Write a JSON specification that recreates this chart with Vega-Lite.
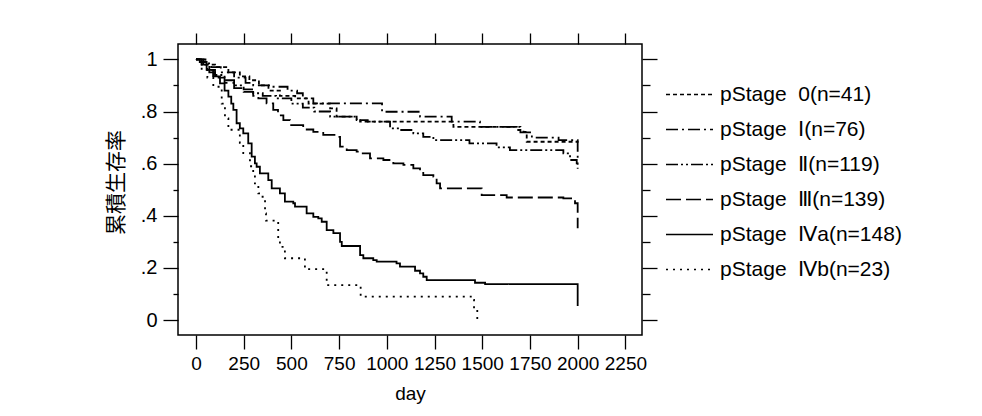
{
  "$schema": "https://vega.github.io/schema/vega-lite/v6.json",
  "width": 464,
  "height": 291,
  "autosize": {"type": "none"},
  "padding": {"left": 178, "top": 44, "right": 340, "bottom": 81},
  "background": "white",
  "config": {"view": {"stroke": "black", "strokeWidth": 1.5}, "font": "Liberation Sans"},
  "datasets": {
    "km": [
      {"stage": "pStage\u00a0\u00a00(n=41)", "day": 0, "s": 1.0},
      {"stage": "pStage\u00a0\u00a00(n=41)", "day": 50, "s": 0.98},
      {"stage": "pStage\u00a0\u00a00(n=41)", "day": 100, "s": 0.97},
      {"stage": "pStage\u00a0\u00a00(n=41)", "day": 170, "s": 0.95},
      {"stage": "pStage\u00a0\u00a00(n=41)", "day": 230, "s": 0.935},
      {"stage": "pStage\u00a0\u00a00(n=41)", "day": 280, "s": 0.92},
      {"stage": "pStage\u00a0\u00a00(n=41)", "day": 330, "s": 0.9},
      {"stage": "pStage\u00a0\u00a00(n=41)", "day": 380, "s": 0.88},
      {"stage": "pStage\u00a0\u00a00(n=41)", "day": 440, "s": 0.86},
      {"stage": "pStage\u00a0\u00a00(n=41)", "day": 520, "s": 0.85},
      {"stage": "pStage\u00a0\u00a00(n=41)", "day": 590, "s": 0.83},
      {"stage": "pStage\u00a0\u00a00(n=41)", "day": 703, "s": 0.812},
      {"stage": "pStage\u00a0\u00a00(n=41)", "day": 737, "s": 0.78},
      {"stage": "pStage\u00a0\u00a00(n=41)", "day": 842, "s": 0.767},
      {"stage": "pStage\u00a0\u00a00(n=41)", "day": 860, "s": 0.761},
      {"stage": "pStage\u00a0\u00a00(n=41)", "day": 1349, "s": 0.741},
      {"stage": "pStage\u00a0\u00a00(n=41)", "day": 1681, "s": 0.729},
      {"stage": "pStage\u00a0\u00a00(n=41)", "day": 1716, "s": 0.722},
      {"stage": "pStage\u00a0\u00a00(n=41)", "day": 1733, "s": 0.684},
      {"stage": "pStage\u00a0\u00a00(n=41)", "day": 2000, "s": 0.68},

      {"stage": "pStage\u00a0\u00a0Ⅰ(n=76)", "day": 0, "s": 1.0},
      {"stage": "pStage\u00a0\u00a0Ⅰ(n=76)", "day": 40, "s": 0.985},
      {"stage": "pStage\u00a0\u00a0Ⅰ(n=76)", "day": 80, "s": 0.97},
      {"stage": "pStage\u00a0\u00a0Ⅰ(n=76)", "day": 130, "s": 0.95},
      {"stage": "pStage\u00a0\u00a0Ⅰ(n=76)", "day": 200, "s": 0.93},
      {"stage": "pStage\u00a0\u00a0Ⅰ(n=76)", "day": 260, "s": 0.91},
      {"stage": "pStage\u00a0\u00a0Ⅰ(n=76)", "day": 300, "s": 0.9},
      {"stage": "pStage\u00a0\u00a0Ⅰ(n=76)", "day": 400, "s": 0.895},
      {"stage": "pStage\u00a0\u00a0Ⅰ(n=76)", "day": 480, "s": 0.88},
      {"stage": "pStage\u00a0\u00a0Ⅰ(n=76)", "day": 530, "s": 0.87},
      {"stage": "pStage\u00a0\u00a0Ⅰ(n=76)", "day": 560, "s": 0.85},
      {"stage": "pStage\u00a0\u00a0Ⅰ(n=76)", "day": 615, "s": 0.831},
      {"stage": "pStage\u00a0\u00a0Ⅰ(n=76)", "day": 975, "s": 0.799},
      {"stage": "pStage\u00a0\u00a0Ⅰ(n=76)", "day": 1174, "s": 0.78},
      {"stage": "pStage\u00a0\u00a0Ⅰ(n=76)", "day": 1340, "s": 0.761},
      {"stage": "pStage\u00a0\u00a0Ⅰ(n=76)", "day": 1488, "s": 0.741},
      {"stage": "pStage\u00a0\u00a0Ⅰ(n=76)", "day": 1700, "s": 0.72},
      {"stage": "pStage\u00a0\u00a0Ⅰ(n=76)", "day": 1760, "s": 0.7},
      {"stage": "pStage\u00a0\u00a0Ⅰ(n=76)", "day": 1900, "s": 0.69},
      {"stage": "pStage\u00a0\u00a0Ⅰ(n=76)", "day": 2000, "s": 0.62},

      {"stage": "pStage\u00a0\u00a0Ⅱ(n=119)", "day": 0, "s": 1.0},
      {"stage": "pStage\u00a0\u00a0Ⅱ(n=119)", "day": 30, "s": 0.98},
      {"stage": "pStage\u00a0\u00a0Ⅱ(n=119)", "day": 60, "s": 0.96},
      {"stage": "pStage\u00a0\u00a0Ⅱ(n=119)", "day": 100, "s": 0.94},
      {"stage": "pStage\u00a0\u00a0Ⅱ(n=119)", "day": 150, "s": 0.92},
      {"stage": "pStage\u00a0\u00a0Ⅱ(n=119)", "day": 200, "s": 0.9},
      {"stage": "pStage\u00a0\u00a0Ⅱ(n=119)", "day": 250, "s": 0.885},
      {"stage": "pStage\u00a0\u00a0Ⅱ(n=119)", "day": 300, "s": 0.87},
      {"stage": "pStage\u00a0\u00a0Ⅱ(n=119)", "day": 350, "s": 0.86},
      {"stage": "pStage\u00a0\u00a0Ⅱ(n=119)", "day": 420, "s": 0.85},
      {"stage": "pStage\u00a0\u00a0Ⅱ(n=119)", "day": 500, "s": 0.83},
      {"stage": "pStage\u00a0\u00a0Ⅱ(n=119)", "day": 560, "s": 0.815},
      {"stage": "pStage\u00a0\u00a0Ⅱ(n=119)", "day": 620, "s": 0.8},
      {"stage": "pStage\u00a0\u00a0Ⅱ(n=119)", "day": 703, "s": 0.78},
      {"stage": "pStage\u00a0\u00a0Ⅱ(n=119)", "day": 842, "s": 0.767},
      {"stage": "pStage\u00a0\u00a0Ⅱ(n=119)", "day": 900, "s": 0.761},
      {"stage": "pStage\u00a0\u00a0Ⅱ(n=119)", "day": 1017, "s": 0.735},
      {"stage": "pStage\u00a0\u00a0Ⅱ(n=119)", "day": 1069, "s": 0.729},
      {"stage": "pStage\u00a0\u00a0Ⅱ(n=119)", "day": 1139, "s": 0.716},
      {"stage": "pStage\u00a0\u00a0Ⅱ(n=119)", "day": 1191, "s": 0.703},
      {"stage": "pStage\u00a0\u00a0Ⅱ(n=119)", "day": 1244, "s": 0.69},
      {"stage": "pStage\u00a0\u00a0Ⅱ(n=119)", "day": 1433, "s": 0.678},
      {"stage": "pStage\u00a0\u00a0Ⅱ(n=119)", "day": 1575, "s": 0.662},
      {"stage": "pStage\u00a0\u00a0Ⅱ(n=119)", "day": 1645, "s": 0.652},
      {"stage": "pStage\u00a0\u00a0Ⅱ(n=119)", "day": 1925, "s": 0.639},
      {"stage": "pStage\u00a0\u00a0Ⅱ(n=119)", "day": 1960, "s": 0.614},
      {"stage": "pStage\u00a0\u00a0Ⅱ(n=119)", "day": 1995, "s": 0.601},
      {"stage": "pStage\u00a0\u00a0Ⅱ(n=119)", "day": 2000, "s": 0.58},

      {"stage": "pStage\u00a0\u00a0Ⅲ(n=139)", "day": 0, "s": 1.0},
      {"stage": "pStage\u00a0\u00a0Ⅲ(n=139)", "day": 30, "s": 0.98},
      {"stage": "pStage\u00a0\u00a0Ⅲ(n=139)", "day": 70, "s": 0.95},
      {"stage": "pStage\u00a0\u00a0Ⅲ(n=139)", "day": 100, "s": 0.93},
      {"stage": "pStage\u00a0\u00a0Ⅲ(n=139)", "day": 150, "s": 0.91},
      {"stage": "pStage\u00a0\u00a0Ⅲ(n=139)", "day": 200, "s": 0.89},
      {"stage": "pStage\u00a0\u00a0Ⅲ(n=139)", "day": 250, "s": 0.875},
      {"stage": "pStage\u00a0\u00a0Ⅲ(n=139)", "day": 300, "s": 0.86},
      {"stage": "pStage\u00a0\u00a0Ⅲ(n=139)", "day": 327, "s": 0.85},
      {"stage": "pStage\u00a0\u00a0Ⅲ(n=139)", "day": 370, "s": 0.831},
      {"stage": "pStage\u00a0\u00a0Ⅲ(n=139)", "day": 405, "s": 0.806},
      {"stage": "pStage\u00a0\u00a0Ⅲ(n=139)", "day": 430, "s": 0.785},
      {"stage": "pStage\u00a0\u00a0Ⅲ(n=139)", "day": 458, "s": 0.767},
      {"stage": "pStage\u00a0\u00a0Ⅲ(n=139)", "day": 493, "s": 0.748},
      {"stage": "pStage\u00a0\u00a0Ⅲ(n=139)", "day": 562, "s": 0.731},
      {"stage": "pStage\u00a0\u00a0Ⅲ(n=139)", "day": 615, "s": 0.722},
      {"stage": "pStage\u00a0\u00a0Ⅲ(n=139)", "day": 667, "s": 0.71},
      {"stage": "pStage\u00a0\u00a0Ⅲ(n=139)", "day": 737, "s": 0.703},
      {"stage": "pStage\u00a0\u00a0Ⅲ(n=139)", "day": 755, "s": 0.665},
      {"stage": "pStage\u00a0\u00a0Ⅲ(n=139)", "day": 790, "s": 0.652},
      {"stage": "pStage\u00a0\u00a0Ⅲ(n=139)", "day": 842, "s": 0.646},
      {"stage": "pStage\u00a0\u00a0Ⅲ(n=139)", "day": 868, "s": 0.639},
      {"stage": "pStage\u00a0\u00a0Ⅲ(n=139)", "day": 912, "s": 0.62},
      {"stage": "pStage\u00a0\u00a0Ⅲ(n=139)", "day": 982, "s": 0.614},
      {"stage": "pStage\u00a0\u00a0Ⅲ(n=139)", "day": 1034, "s": 0.601},
      {"stage": "pStage\u00a0\u00a0Ⅲ(n=139)", "day": 1087, "s": 0.595},
      {"stage": "pStage\u00a0\u00a0Ⅲ(n=139)", "day": 1139, "s": 0.582},
      {"stage": "pStage\u00a0\u00a0Ⅲ(n=139)", "day": 1174, "s": 0.569},
      {"stage": "pStage\u00a0\u00a0Ⅲ(n=139)", "day": 1191, "s": 0.556},
      {"stage": "pStage\u00a0\u00a0Ⅲ(n=139)", "day": 1244, "s": 0.55},
      {"stage": "pStage\u00a0\u00a0Ⅲ(n=139)", "day": 1261, "s": 0.524},
      {"stage": "pStage\u00a0\u00a0Ⅲ(n=139)", "day": 1279, "s": 0.505},
      {"stage": "pStage\u00a0\u00a0Ⅲ(n=139)", "day": 1497, "s": 0.479},
      {"stage": "pStage\u00a0\u00a0Ⅲ(n=139)", "day": 1628, "s": 0.47},
      {"stage": "pStage\u00a0\u00a0Ⅲ(n=139)", "day": 1925, "s": 0.467},
      {"stage": "pStage\u00a0\u00a0Ⅲ(n=139)", "day": 1986, "s": 0.448},
      {"stage": "pStage\u00a0\u00a0Ⅲ(n=139)", "day": 2000, "s": 0.352},

      {"stage": "pStage\u00a0\u00a0Ⅳa(n=148)", "day": 0, "s": 1.0},
      {"stage": "pStage\u00a0\u00a0Ⅳa(n=148)", "day": 20, "s": 0.99},
      {"stage": "pStage\u00a0\u00a0Ⅳa(n=148)", "day": 56, "s": 0.96},
      {"stage": "pStage\u00a0\u00a0Ⅳa(n=148)", "day": 90, "s": 0.935},
      {"stage": "pStage\u00a0\u00a0Ⅳa(n=148)", "day": 126, "s": 0.908},
      {"stage": "pStage\u00a0\u00a0Ⅳa(n=148)", "day": 150, "s": 0.88},
      {"stage": "pStage\u00a0\u00a0Ⅳa(n=148)", "day": 170, "s": 0.857},
      {"stage": "pStage\u00a0\u00a0Ⅳa(n=148)", "day": 185, "s": 0.83},
      {"stage": "pStage\u00a0\u00a0Ⅳa(n=148)", "day": 196, "s": 0.806},
      {"stage": "pStage\u00a0\u00a0Ⅳa(n=148)", "day": 213, "s": 0.755},
      {"stage": "pStage\u00a0\u00a0Ⅳa(n=148)", "day": 230, "s": 0.735},
      {"stage": "pStage\u00a0\u00a0Ⅳa(n=148)", "day": 248, "s": 0.716},
      {"stage": "pStage\u00a0\u00a0Ⅳa(n=148)", "day": 274, "s": 0.678},
      {"stage": "pStage\u00a0\u00a0Ⅳa(n=148)", "day": 292, "s": 0.627},
      {"stage": "pStage\u00a0\u00a0Ⅳa(n=148)", "day": 309, "s": 0.601},
      {"stage": "pStage\u00a0\u00a0Ⅳa(n=148)", "day": 318, "s": 0.588},
      {"stage": "pStage\u00a0\u00a0Ⅳa(n=148)", "day": 335, "s": 0.563},
      {"stage": "pStage\u00a0\u00a0Ⅳa(n=148)", "day": 379, "s": 0.537},
      {"stage": "pStage\u00a0\u00a0Ⅳa(n=148)", "day": 397, "s": 0.505},
      {"stage": "pStage\u00a0\u00a0Ⅳa(n=148)", "day": 440, "s": 0.486},
      {"stage": "pStage\u00a0\u00a0Ⅳa(n=148)", "day": 466, "s": 0.454},
      {"stage": "pStage\u00a0\u00a0Ⅳa(n=148)", "day": 510, "s": 0.448},
      {"stage": "pStage\u00a0\u00a0Ⅳa(n=148)", "day": 519, "s": 0.435},
      {"stage": "pStage\u00a0\u00a0Ⅳa(n=148)", "day": 580, "s": 0.409},
      {"stage": "pStage\u00a0\u00a0Ⅳa(n=148)", "day": 615, "s": 0.396},
      {"stage": "pStage\u00a0\u00a0Ⅳa(n=148)", "day": 641, "s": 0.39},
      {"stage": "pStage\u00a0\u00a0Ⅳa(n=148)", "day": 659, "s": 0.377},
      {"stage": "pStage\u00a0\u00a0Ⅳa(n=148)", "day": 685, "s": 0.345},
      {"stage": "pStage\u00a0\u00a0Ⅳa(n=148)", "day": 720, "s": 0.333},
      {"stage": "pStage\u00a0\u00a0Ⅳa(n=148)", "day": 755, "s": 0.3},
      {"stage": "pStage\u00a0\u00a0Ⅳa(n=148)", "day": 764, "s": 0.284},
      {"stage": "pStage\u00a0\u00a0Ⅳa(n=148)", "day": 860, "s": 0.249},
      {"stage": "pStage\u00a0\u00a0Ⅳa(n=148)", "day": 877, "s": 0.237},
      {"stage": "pStage\u00a0\u00a0Ⅳa(n=148)", "day": 929, "s": 0.23},
      {"stage": "pStage\u00a0\u00a0Ⅳa(n=148)", "day": 947, "s": 0.224},
      {"stage": "pStage\u00a0\u00a0Ⅳa(n=148)", "day": 1051, "s": 0.217},
      {"stage": "pStage\u00a0\u00a0Ⅳa(n=148)", "day": 1069, "s": 0.205},
      {"stage": "pStage\u00a0\u00a0Ⅳa(n=148)", "day": 1148, "s": 0.189},
      {"stage": "pStage\u00a0\u00a0Ⅳa(n=148)", "day": 1174, "s": 0.179},
      {"stage": "pStage\u00a0\u00a0Ⅳa(n=148)", "day": 1191, "s": 0.166},
      {"stage": "pStage\u00a0\u00a0Ⅳa(n=148)", "day": 1209, "s": 0.153},
      {"stage": "pStage\u00a0\u00a0Ⅳa(n=148)", "day": 1462, "s": 0.143},
      {"stage": "pStage\u00a0\u00a0Ⅳa(n=148)", "day": 1515, "s": 0.138},
      {"stage": "pStage\u00a0\u00a0Ⅳa(n=148)", "day": 2000, "s": 0.054},

      {"stage": "pStage\u00a0\u00a0Ⅳb(n=23)", "day": 0, "s": 1.0},
      {"stage": "pStage\u00a0\u00a0Ⅳb(n=23)", "day": 30, "s": 0.96},
      {"stage": "pStage\u00a0\u00a0Ⅳb(n=23)", "day": 60, "s": 0.93},
      {"stage": "pStage\u00a0\u00a0Ⅳb(n=23)", "day": 91, "s": 0.895},
      {"stage": "pStage\u00a0\u00a0Ⅳb(n=23)", "day": 135, "s": 0.83},
      {"stage": "pStage\u00a0\u00a0Ⅳb(n=23)", "day": 152, "s": 0.774},
      {"stage": "pStage\u00a0\u00a0Ⅳb(n=23)", "day": 170, "s": 0.73},
      {"stage": "pStage\u00a0\u00a0Ⅳb(n=23)", "day": 230, "s": 0.68},
      {"stage": "pStage\u00a0\u00a0Ⅳb(n=23)", "day": 248, "s": 0.64},
      {"stage": "pStage\u00a0\u00a0Ⅳb(n=23)", "day": 283, "s": 0.59},
      {"stage": "pStage\u00a0\u00a0Ⅳb(n=23)", "day": 300, "s": 0.563},
      {"stage": "pStage\u00a0\u00a0Ⅳb(n=23)", "day": 309, "s": 0.524},
      {"stage": "pStage\u00a0\u00a0Ⅳb(n=23)", "day": 327, "s": 0.486},
      {"stage": "pStage\u00a0\u00a0Ⅳb(n=23)", "day": 349, "s": 0.473},
      {"stage": "pStage\u00a0\u00a0Ⅳb(n=23)", "day": 362, "s": 0.409},
      {"stage": "pStage\u00a0\u00a0Ⅳb(n=23)", "day": 367, "s": 0.381},
      {"stage": "pStage\u00a0\u00a0Ⅳb(n=23)", "day": 431, "s": 0.307},
      {"stage": "pStage\u00a0\u00a0Ⅳb(n=23)", "day": 440, "s": 0.281},
      {"stage": "pStage\u00a0\u00a0Ⅳb(n=23)", "day": 466, "s": 0.237},
      {"stage": "pStage\u00a0\u00a0Ⅳb(n=23)", "day": 571, "s": 0.195},
      {"stage": "pStage\u00a0\u00a0Ⅳb(n=23)", "day": 685, "s": 0.134},
      {"stage": "pStage\u00a0\u00a0Ⅳb(n=23)", "day": 863, "s": 0.09},
      {"stage": "pStage\u00a0\u00a0Ⅳb(n=23)", "day": 1440, "s": 0.077},
      {"stage": "pStage\u00a0\u00a0Ⅳb(n=23)", "day": 1457, "s": 0.045},
      {"stage": "pStage\u00a0\u00a0Ⅳb(n=23)", "day": 1474, "s": 0.0}
    ]
  },
  "data": {"name": "km"},
  "layer": [
    {
      "mark": {"type": "line", "interpolate": "step-after", "color": "black", "strokeWidth": 1.8},
      "encoding": {
        "x": {
          "field": "day", "type": "quantitative",
          "scale": {"domain": [-94, 2337], "nice": false, "zero": false},
          "axis": {
            "values": [0, 250, 500, 750, 1000, 1250, 1500, 1750, 2000, 2250],
            "format": "d",
            "domain": false, "grid": false,
            "tickColor": "black", "tickSize": 14, "tickWidth": 1.3,
            "labelFontSize": 19, "labelColor": "black", "labelPadding": 5, "labelFlush": false, "labelOverlap": false,
            "title": "day", "titleFontSize": 19, "titleFontWeight": "normal", "titleColor": "black", "titlePadding": 11
          }
        },
        "y": {
          "field": "s", "type": "quantitative",
          "scale": {"domain": [-0.0575, 1.059], "nice": false, "zero": false},
          "axis": {
            "values": [0, 0.1, 0.2, 0.3, 0.4, 0.5, 0.6, 0.7, 0.8, 0.9, 1],
            "domain": false, "grid": false,
            "tickColor": "black", "tickWidth": 1.3,
            "tickSize": {"condition": {"test": "round(datum.value*10) % 2 == 0", "value": 15}, "value": 5},
            "labelExpr": "round(datum.value*10) % 2 == 0 ? (datum.value == 0 ? '0' : datum.value == 1 ? '1' : replace(format(datum.value, '.1f'), '0.', '.')) : ''",
            "labelFontSize": 20, "labelColor": "black", "labelPadding": 6, "labelFlush": false,
            "title": "累積生存率", "titleFont": "Noto Sans CJK JP", "titleFontSize": 21, "titleFontWeight": "normal", "titleColor": "black",
            "titleX": -62, "titleY": 138, "titleAngle": -90, "titleAlign": "center", "titleBaseline": "middle"
          }
        },
        "strokeDash": {
          "field": "stage", "type": "nominal",
          "scale": {
            "domain": ["pStage\u00a0\u00a00(n=41)", "pStage\u00a0\u00a0Ⅰ(n=76)", "pStage\u00a0\u00a0Ⅱ(n=119)", "pStage\u00a0\u00a0Ⅲ(n=139)", "pStage\u00a0\u00a0Ⅳa(n=148)", "pStage\u00a0\u00a0Ⅳb(n=23)"],
            "range": [[4, 3], [12, 4, 2, 4], [12, 3, 2, 3, 2, 3], [15, 5], [1, 0], [2, 5]]
          },
          "legend": {
            "orient": "none", "legendX": 487, "legendY": 26,
            "title": null, "padding": 0,
            "symbolType": "stroke", "symbolSize": 2209, "symbolStrokeColor": "black", "symbolStrokeWidth": 1.5,
            "labelFontSize": 21, "labelColor": "black", "labelOffset": 6, "labelLimit": 400,
            "rowPadding": -14
          }
        }
      }
    },
    {
      "mark": {"type": "line", "opacity": 0},
      "encoding": {
        "x": {
          "field": "day", "type": "quantitative",
          "axis": {
            "orient": "top",
            "values": [0, 250, 500, 750, 1000, 1250, 1500, 1750, 2000, 2250],
            "domain": false, "grid": false, "labels": false, "title": null,
            "tickColor": "black", "tickSize": 11, "tickWidth": 1.3
          }
        },
        "y": {
          "field": "s", "type": "quantitative",
          "axis": {
            "orient": "right",
            "values": [0, 0.1, 0.2, 0.3, 0.4, 0.5, 0.6, 0.7, 0.8, 0.9, 1],
            "domain": false, "grid": false, "labels": false, "title": null,
            "tickColor": "black", "tickWidth": 1.3,
            "tickSize": {"condition": {"test": "round(datum.value*10) % 2 == 0", "value": 15}, "value": 8}
          }
        },
        "detail": {"field": "stage", "type": "nominal"}
      }
    }
  ],
  "resolve": {"axis": {"x": "independent", "y": "independent"}}
}
